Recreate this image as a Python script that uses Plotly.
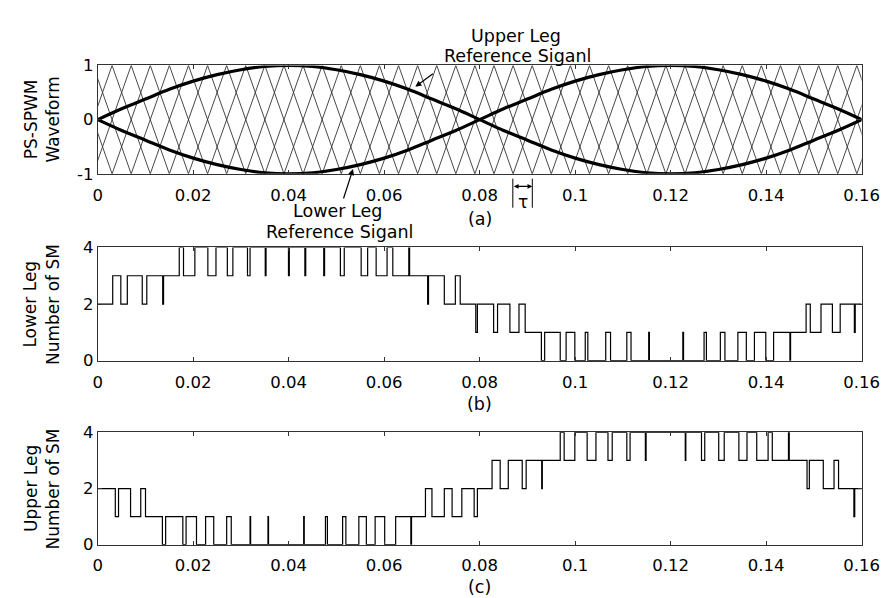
import plotly.graph_objects as go

W, H = 895, 598
FONT = "DejaVu Sans"

# ---------------- data ----------------
x_tick_vals = [0, 0.02, 0.04, 0.06, 0.08, 0.10, 0.12, 0.14, 0.16]
x_tick_text = ["0", "0.02", "0.04", "0.06", "0.08", "0.1", "0.12", "0.14", "0.16"]
a_tick_vals = [-1, 0, 1]
a_tick_text = ["-1", "0", "1"]
sm_tick_vals = [0, 2, 4]
sm_tick_text = ["0", "2", "4"]

# reference signals, read every 5 ms
ref_time = [0.000, 0.005, 0.010, 0.015, 0.020, 0.025, 0.030, 0.035, 0.040,
            0.045, 0.050, 0.055, 0.060, 0.065, 0.070, 0.075, 0.080,
            0.085, 0.090, 0.095, 0.100, 0.105, 0.110, 0.115, 0.120,
            0.125, 0.130, 0.135, 0.140, 0.145, 0.150, 0.155, 0.160]
upper_ref = [0.00, 0.20, 0.38, 0.56, 0.71, 0.83, 0.92, 0.98, 1.00,
             0.98, 0.92, 0.83, 0.71, 0.56, 0.38, 0.20, 0.00,
             -0.20, -0.38, -0.56, -0.71, -0.83, -0.92, -0.98, -1.00,
             -0.98, -0.92, -0.83, -0.71, -0.56, -0.38, -0.20, 0.00]
lower_ref = [0.00, -0.20, -0.38, -0.56, -0.71, -0.83, -0.92, -0.98, -1.00,
             -0.98, -0.92, -0.83, -0.71, -0.56, -0.38, -0.20, 0.00,
             0.20, 0.38, 0.56, 0.71, 0.83, 0.92, 0.98, 1.00,
             0.98, 0.92, 0.83, 0.71, 0.56, 0.38, 0.20, 0.00]

# phase-shifted triangular carriers
carrier_period = 0.016
carrier_count = 4
carrier_shift = 0.004          # tau
carrier_first_peak = -0.001    # time of a peak of the first carrier
carrier_peak = 1.0

# (b) lower leg number of SM (step changes)
lower_sm_time = [0.0, 0.00313, 0.00483, 0.00619, 0.00932, 0.01027, 0.01360, 0.01378,
                 0.01707, 0.01796, 0.02034, 0.02306, 0.02476, 0.02714, 0.02830, 0.03136,
                 0.03190, 0.03508, 0.03525, 0.03995, 0.04012, 0.04338, 0.04356, 0.04733,
                 0.04751, 0.05082, 0.05163, 0.05517, 0.05653, 0.05831, 0.06060, 0.06180,
                 0.06515, 0.06532, 0.06910, 0.06928, 0.07259, 0.07490, 0.07592, 0.07918,
                 0.07952, 0.08292, 0.08374, 0.08633, 0.08823, 0.08953, 0.09292, 0.09361,
                 0.09687, 0.09810, 0.09993, 0.10211, 0.10265, 0.10640, 0.10741, 0.11082,
                 0.11170, 0.11540, 0.11555, 0.12255, 0.12270, 0.12700, 0.12749, 0.13041,
                 0.13137, 0.13408, 0.13585, 0.13755, 0.13993, 0.14156, 0.14498, 0.14512,
                 0.14837, 0.14925, 0.15149, 0.15388, 0.15551, 0.15848, 0.15866, 0.16]
lower_sm_level = [2, 3, 2, 3, 2, 3, 2, 3,
                  4, 3, 4, 3, 4, 3, 4, 3,
                  4, 3, 4, 3, 4, 3, 4, 3,
                  4, 3, 4, 3, 4, 3, 4, 3,
                  4, 3, 2, 3, 2, 3, 2, 1,
                  2, 1, 2, 1, 2, 1, 0, 1,
                  0, 1, 0, 1, 0, 1, 0, 1,
                  0, 1, 0, 1, 0, 1, 0, 1,
                  0, 1, 0, 1, 0, 1, 0, 1,
                  2, 1, 2, 1, 2, 1, 2, 2]

# (c) upper leg number of SM (step changes)
upper_sm_time = [0.0, 0.00367, 0.00435, 0.00687, 0.00900, 0.01000, 0.01354, 0.01422,
                 0.01782, 0.01850, 0.02068, 0.02259, 0.02429, 0.02700, 0.02796, 0.03190,
                 0.03202, 0.03565, 0.03577, 0.04313, 0.04325, 0.04769, 0.04810, 0.05129,
                 0.05197, 0.05469, 0.05626, 0.05810, 0.06010, 0.06240, 0.06558, 0.06572,
                 0.06864, 0.07000, 0.07259, 0.07422, 0.07626, 0.07884, 0.07952, 0.08259,
                 0.08429, 0.08599, 0.08891, 0.08973, 0.09299, 0.09312, 0.09687, 0.09769,
                 0.09993, 0.10251, 0.10435, 0.10687, 0.10776, 0.11082, 0.11150, 0.11470,
                 0.11486, 0.12306, 0.12318, 0.12646, 0.12714, 0.13007, 0.13122, 0.13429,
                 0.13599, 0.13803, 0.14041, 0.14129, 0.14468, 0.14484, 0.14857, 0.14905,
                 0.15197, 0.15422, 0.15517, 0.15838, 0.15856, 0.16]
upper_sm_level = [2, 1, 2, 1, 2, 1, 0, 1,
                  0, 1, 0, 1, 0, 1, 0, 1,
                  0, 1, 0, 1, 0, 1, 0, 1,
                  0, 1, 0, 1, 0, 1, 0, 1,
                  2, 1, 2, 1, 2, 1, 2, 3,
                  2, 3, 2, 3, 2, 3, 4, 3,
                  4, 3, 4, 3, 4, 3, 4, 3,
                  4, 3, 4, 3, 4, 3, 4, 3,
                  4, 3, 4, 3, 4, 3, 2, 3,
                  2, 3, 2, 1, 2, 2]

# ---------------- helpers (pixel -> paper) ----------------
def px(x):
    return x / W


def py(y):
    return 1 - y / H


X0, X1 = 87, 871
panels = {"a": (50, 162), "b": (238, 355), "c": (429, 545)}

# carriers as polylines through their corners
car_t, car_v = [], []
t_end = max(x_tick_vals)
for k in range(carrier_count):
    t = carrier_first_peak + k * carrier_shift - carrier_period
    v = carrier_peak
    while t <= t_end + carrier_period:
        car_t.append(t)
        car_v.append(v)
        t += carrier_period / 2
        v = -v
    car_t.append(None)
    car_v.append(None)

fig = go.Figure()
fig.add_trace(go.Scatter(x=car_t, y=car_v, mode="lines",
                         line=dict(color="#333333", width=0.9),
                         xaxis="x", yaxis="y", showlegend=False))
fig.add_trace(go.Scatter(x=ref_time, y=upper_ref, mode="lines",
                         line=dict(color="black", width=3.2, shape="spline"),
                         xaxis="x", yaxis="y", showlegend=False))
fig.add_trace(go.Scatter(x=ref_time, y=lower_ref, mode="lines",
                         line=dict(color="black", width=3.2, shape="spline"),
                         xaxis="x", yaxis="y", showlegend=False))
fig.add_trace(go.Scatter(x=lower_sm_time, y=lower_sm_level, mode="lines",
                         line=dict(color="black", width=1.2, shape="hv"),
                         xaxis="x2", yaxis="y2", showlegend=False))
fig.add_trace(go.Scatter(x=upper_sm_time, y=upper_sm_level, mode="lines",
                         line=dict(color="black", width=1.2, shape="hv"),
                         xaxis="x3", yaxis="y3", showlegend=False))

axis_common = dict(showline=True, mirror="ticks", linecolor="#333333", linewidth=1,
                   ticks="inside", ticklen=4, tickcolor="#333333", tickwidth=1,
                   showgrid=False, zeroline=False,
                   tickfont=dict(family=FONT, size=16.5, color="black"))

layout = dict(width=W, height=H, paper_bgcolor="white", plot_bgcolor="white",
              margin=dict(l=0, r=0, t=0, b=0), showlegend=False)
for i, key in enumerate(["a", "b", "c"]):
    top, bot = panels[key]
    sfx = "" if i == 0 else str(i + 1)
    layout["xaxis" + sfx] = dict(axis_common, domain=[px(X0), px(X1)],
                                 range=[0, 0.16], tickvals=x_tick_vals,
                                 ticktext=x_tick_text, anchor="y" + sfx,
                                 ticklabelstandoff=6)
    if key == "a":
        yr, tv, tt = [-1, 1], a_tick_vals, a_tick_text
    else:
        yr, tv, tt = [0, 4], sm_tick_vals, sm_tick_text
    layout["yaxis" + sfx] = dict(axis_common, domain=[py(bot), py(top)],
                                 range=yr, tickvals=tv, ticktext=tt,
                                 anchor="x" + sfx)
fig.update_layout(**layout)

ann = []


def text(x, y, s, size=17.5, angle=0):
    ann.append(dict(x=px(x), y=py(y), xref="paper", yref="paper", text=s,
                    showarrow=False, textangle=angle,
                    font=dict(family=FONT, size=size, color="black"),
                    xanchor="center", yanchor="middle"))


def arrow(hx, hy, tx, ty, side="end", head=2, size=1.0, width=1.2):
    ann.append(dict(x=px(hx), y=py(hy), xref="paper", yref="paper", text="",
                    showarrow=True, ax=tx - hx, ay=ty - hy, axref="pixel", ayref="pixel",
                    arrowhead=head, arrowsize=size, arrowwidth=width,
                    arrowcolor="black", arrowside=side, startarrowhead=head,
                    startarrowsize=size, standoff=0, startstandoff=0))


# y-axis titles (two lines, rotated)
for key, l1, l2 in [("a", "PS-SPWM", "Waveform"),
                    ("b", "Lower Leg", "Number of SM"),
                    ("c", "Upper Leg", "Number of SM")]:
    top, bot = panels[key]
    mid = (top + bot) / 2
    text(18, mid, l1, size=17, angle=-90)
    text(41, mid, l2, size=17, angle=-90)

# panel captions
text(479, 209, "(a)")
text(479, 400, "(b)")
text(479, 589, "(c)")

# reference signal labels
text(516, 20, "Upper Leg")
text(518, 40, "Reference Siganl")
arrow(413, 72, 432, 58)
text(333, 200, "Lower Leg")
text(335, 222, "Reference Siganl")
arrow(349, 157, 339, 188)

# tau marker
text(523, 191, "τ", size=17)
arrow(533, 175, 513, 175, side="end+start", head=2, size=0.8, width=1.2)
shapes = [dict(type="line", xref="paper", yref="paper", x0=px(513), x1=px(513),
               y0=py(167), y1=py(197), line=dict(color="black", width=1)),
          dict(type="line", xref="paper", yref="paper", x0=px(533), x1=px(533),
               y0=py(167), y1=py(197), line=dict(color="black", width=1))]

fig.update_layout(annotations=ann, shapes=shapes)
fig.write_html("out.html")
